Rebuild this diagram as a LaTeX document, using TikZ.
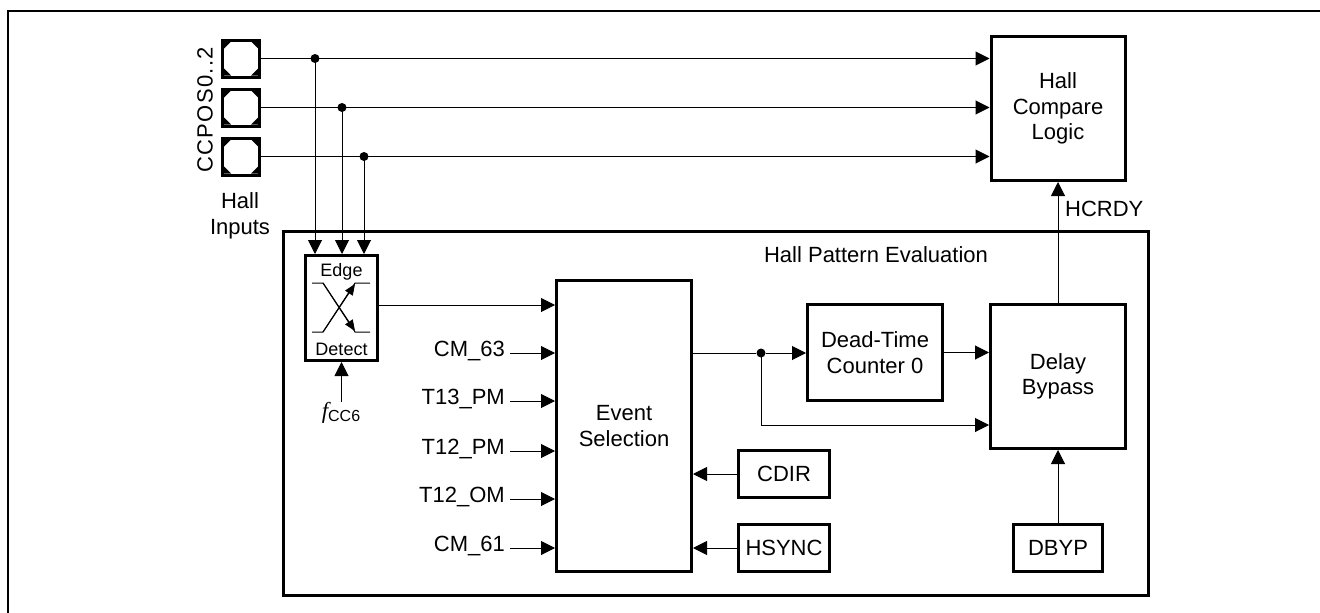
\documentclass[tikz,border=0pt]{standalone}
\usepackage{fontspec}
\setmainfont{Liberation Sans}
\newfontfamily\serifit{Liberation Serif}
\usetikzlibrary{arrows.meta,calc}
\begin{document}
\begin{tikzpicture}[x=1pt,y=-1pt,
  box/.style={draw,line width=3pt,inner sep=0pt,align=center,font=\fontsize{22}{25.5}\selectfont},
  lbl/.style={inner sep=0pt,font=\fontsize{22}{25.5}\selectfont,text height=0.716em,text depth=0pt},
  txt/.style={inner sep=0pt,align=center,font=\fontsize{22}{25.5}\selectfont},
  sm/.style={inner sep=0pt,font=\fontsize{18}{20}\selectfont},
  wire/.style={line width=1pt},
  arr/.style={wire,-{Triangle[length=14pt,width=14pt]}},
  sarr/.style={wire,-{Triangle[length=11pt,width=9pt]}},
  dot/.style={circle,fill,inner sep=0pt,minimum size=9pt},
  pad/.style={draw,line width=3pt,minimum size=37pt,inner sep=0pt}]

\useasboundingbox (0,0) rectangle (1320,613);
\draw[line width=2pt] (8,613) -- (8,11) -- (1320,11);

% pads
\node[pad] (p0) at (241,58.5) {};
\node[pad] (p1) at (241,107.5) {};
\node[pad] (p2) at (241,156.5) {};
\foreach \p in {p0,p1,p2}{
  \fill ($(\p.north west)+(3,3)$) -- ++(7,0) -- ++(-7,7) -- cycle;
  \fill ($(\p.north east)+(-3,3)$) -- ++(-7,0) -- ++(7,7) -- cycle;
  \fill ($(\p.south west)+(3,-3)$) -- ++(7,0) -- ++(-7,-7) -- cycle;
  \fill ($(\p.south east)+(-3,-3)$) -- ++(-7,0) -- ++(7,-7) -- cycle;
}
\node[txt,rotate=90,font=\fontsize{22}{25}\selectfont\addfontfeature{LetterSpace=6}] (ccpos) at (205,110) {CCPOS0..2};
\node[txt] (hin) at (240,216) {Hall\\Inputs};

% boxes
\node[box,minimum width=134pt,minimum height=144pt] (hcl) at (1058,108.5) {Hall\\Compare\\Logic};
\node[draw,line width=3pt,minimum width=865pt,minimum height=364pt,inner sep=0pt] (hpe) at (716,413.5) {};
\node[txt] (hpel) at (876,255) {Hall Pattern Evaluation};
\node[box,minimum width=72pt,minimum height=105pt] (edge) at (341.5,308) {};
\node[sm] (edget) at (341.5,272) {Edge};
\node[sm] (edgeb) at (341.5,349) {Detect};
\node[box,minimum width=135pt,minimum height=291pt] (evt) at (624,426) {Event\\Selection};
\node[box,minimum width=135pt,minimum height=96pt] (dtc) at (875,352.5) {Dead-Time\\Counter 0};
\node[box,minimum width=135pt,minimum height=144pt] (dby) at (1058,376.5) {Delay\\Bypass};
\node[box,minimum width=91pt,minimum height=47pt] (cdir) at (784,474) {CDIR};
\node[box,minimum width=91pt,minimum height=47pt] (hsync) at (784,548) {HSYNC};
\node[box,minimum width=89pt,minimum height=47pt] (dbyp) at (1058,548) {DBYP};

% edge symbol
\draw[wire] (312,283) -- (323,283) -- (355,332) -- (370,332);
\draw[wire] (312,332) -- (323,332) -- (355,283) -- (370,283);
\draw[sarr] (323,283) -- (355,331);
\draw[sarr] (323,332) -- (355,284);

% hall inputs
\foreach \p/\d/\o in {p0/d0/54,p1/d1/81,p2/d2/103}{
  \draw[arr] (\p.east) -- (hcl.west |- \p.east);
  \path (\p.east) ++(\o,0) node[dot] (\d) {};
  \draw[arr] (\d.center) -- (\d.center |- edge.north);
}

% f_CC6
\node[inner sep=0pt] (fcc) at (341,413) {{\serifit\itshape\fontsize{23}{23}\selectfont f}\raisebox{-3pt}{\fontsize{16}{16}\selectfont CC6}};
\draw[arr] (edge.south |- fcc.north) -- (edge.south);

% edge -> event
\coordinate (eo) at ($(edge.east)+(0,-3)$);
\draw[arr] (eo) -- (evt.west |- eo);

% inputs
\foreach \n/\y/\t in {i63/353/CM\_63,t13/401/T13\_PM,t12/451/T12\_PM,t12o/499/T12\_OM,i61/548/CM\_61}{
  \coordinate (c\n) at (510,\y);
  \node[lbl,anchor=east] (l\n) at ($(c\n)+(-5,0)$) {\t};
  \draw[arr] (c\n) -- (evt.west |- c\n);
}

\draw[arr] (cdir.west) -- (evt.east |- cdir.west);
\draw[arr] (hsync.west) -- (evt.east |- hsync.west);

% event outputs
\node[dot] (jn) at (761,353) {};
\draw[wire] (evt.east |- jn) -- (jn);
\draw[arr] (jn) -- (dtc.west |- jn);
\draw[arr] (dtc.east) -- (dby.west |- dtc.east);
\draw[arr] (jn.center) |- ($(dby.west)+(0,48.5)$);
\draw[arr] (dbyp.north) -- (dby.south);
\draw[arr] (dby.north) -- (hcl.south);
\node[lbl,anchor=west] (hcrdy) at (1065,213) {HCRDY};
\end{tikzpicture}
\end{document}
